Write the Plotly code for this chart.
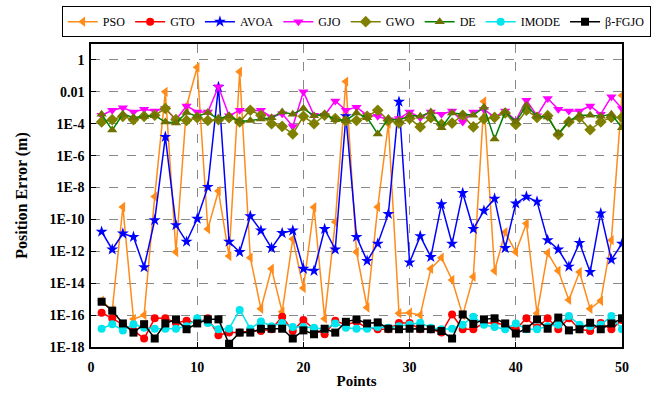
import plotly.graph_objects as go

points = list(range(1, 51))

pso = [8e-16, 2e-16, 6e-10, 5.6e-17, 1e-16, 2.7e-9, 1e-2, 9e-13, 1.3e-3, 0.35,
       2.5e-11, 6e-9, 5e-13, 0.18, 4e-13, 2.5e-16, 8e-14, 1.6e-16, 6e-12, 5e-15,
       5.8e-10, 6e-17, 7e-11, 0.044, 9e-13, 3e-16, 6e-10, 1e-4, 1.3e-16, 1.4e-16,
       1e-16, 8e-14, 4e-13, 1.6e-14, 1e-16, 2.5e-14, 2.5e-3, 6e-14, 1.6e-11, 9e-13,
       5.6e-11, 1.3e-16, 8e-13, 6e-14, 9e-16, 5e-14, 2.5e-16, 8e-16, 5e-12, 6e-3]

gto = [1.4e-16, 6.3e-17, 2.5e-17, 1.1e-17, 3.4e-18, 6.3e-17, 6.3e-17, 3.2e-17, 4.5e-17, 3.2e-17,
       6.3e-17, 5.5e-18, 8e-18, 8e-18, 1e-17, 1e-17, 1.3e-17, 8e-17, 1e-17, 5e-17,
       1.3e-17, 6.3e-18, 4.4e-17, 2.5e-17, 3.8e-17, 1.6e-17, 1.3e-17, 1.3e-17, 3.2e-17, 3.2e-17,
       1.3e-17, 1.3e-17, 8e-18, 1.1e-16, 1.3e-17, 1.3e-17, 3.2e-17, 3.2e-17, 2.5e-17, 1.3e-17,
       6.3e-17, 1.6e-17, 6.3e-17, 1.3e-17, 6.3e-17, 1.3e-17, 1e-17, 3.2e-17, 1.3e-17, 5e-17]

avoa = [1.7e-11, 1.3e-12, 1.3e-11, 8e-12, 1e-13, 9e-11, 1.5e-5, 4.4e-11, 4e-12, 1.1e-10,
        1.1e-8, 2e-2, 4e-12, 9e-13, 1.6e-10, 2e-11, 1.6e-12, 1.4e-11, 2e-11, 8e-14,
        6e-14, 2.5e-11, 1.3e-12, 3e-4, 8e-12, 2.5e-13, 3e-12, 2.2e-10, 2.4e-3, 2e-13,
        9e-12, 4.4e-13, 9e-10, 3e-12, 4.5e-9, 2.5e-11, 3.5e-10, 2e-9, 1.6e-12, 1e-9,
        2.7e-9, 1.3e-9, 5e-12, 1.3e-12, 1.1e-13, 3.4e-12, 5e-14, 2.4e-10, 3e-13, 3e-12]

gjo = [3.4e-4, 7e-4, 1e-3, 5.5e-4, 8e-4, 6.3e-4, 9e-4, 1.8e-4, 1.3e-3, 5.5e-4,
       5.5e-4, 2.1e-2, 3.2e-4, 7e-4, 6.3e-4, 7e-4, 2.6e-4, 4.3e-4, 6.8e-5, 1e-2,
       3.4e-4, 3.4e-4, 2.7e-3, 7e-4, 1.1e-3, 3.4e-4, 2.9e-4, 1.8e-4, 2.1e-4, 5.5e-4,
       2.4e-4, 5.5e-4, 4e-4, 6.3e-4, 1.3e-4, 5.5e-4, 8e-4, 2.6e-4, 6.3e-4, 1.6e-4,
       3e-3, 3.2e-4, 3.8e-3, 8e-4, 6.3e-4, 6.3e-4, 1.3e-3, 4e-4, 5e-3, 9e-4]

gwo = [1.3e-4, 1.8e-4, 2.9e-4, 1.8e-4, 2.9e-4, 3.4e-4, 9e-4, 1.8e-4, 1.6e-4, 2.4e-4,
       1.6e-4, 1.8e-4, 2.4e-4, 1.3e-4, 7e-4, 3.4e-4, 1e-4, 6.8e-5, 2.3e-5, 2.9e-4,
       1e-4, 3.4e-4, 2.1e-4, 1.5e-4, 1.6e-4, 2.9e-4, 7e-4, 1.6e-4, 1.1e-4, 2.1e-4,
       6.3e-5, 2.4e-4, 9e-5, 1.1e-4, 3.4e-4, 6.3e-5, 2e-4, 2.5e-4, 4.7e-4, 9e-5,
       7e-4, 2.5e-4, 3.2e-4, 2.1e-5, 1.3e-4, 2.5e-4, 4.2e-5, 1.3e-4, 2.5e-4, 2.5e-4]

de = [4e-4, 4e-5, 4e-4, 2.5e-4, 2.8e-4, 3.2e-4, 1.3e-4, 1.1e-4, 5e-4, 2.9e-4,
      5e-4, 2e-4, 3.2e-4, 1.4e-4, 1.6e-4, 2e-4, 2.4e-4, 5.5e-4, 4e-4, 9e-4,
      3.2e-4, 4e-4, 1.8e-4, 1.6e-4, 4.7e-4, 2.4e-4, 2.3e-5, 2.1e-4, 1.6e-4, 3.4e-4,
      2.9e-4, 5.5e-4, 5.6e-5, 4.7e-4, 4e-4, 3.4e-4, 1.1e-3, 1.1e-5, 5.5e-4, 1.3e-4,
      1.4e-3, 2.9e-4, 2.6e-4, 2.3e-5, 1.5e-4, 3.4e-4, 3.4e-4, 2.9e-4, 4e-4, 5.6e-5]

imode = [1.4e-17, 2.7e-17, 1.1e-17, 2.7e-17, 1.6e-17, 1.4e-17, 1.4e-17, 1.4e-17, 2e-17, 6.3e-17,
         3.2e-17, 1.3e-17, 1.4e-17, 2.1e-16, 1.4e-17, 4e-17, 2e-17, 3.2e-17, 1.8e-17, 1.8e-17,
         1.6e-17, 1.3e-17, 3e-17, 1.6e-17, 1.4e-17, 1.4e-17, 1.8e-17, 1.6e-17, 2e-17, 2.5e-17,
         3.3e-17, 1.6e-17, 1.3e-17, 1.4e-17, 2.5e-17, 8e-17, 2.5e-17, 1.8e-17, 1.3e-17, 3e-17,
         1.3e-17, 1.3e-17, 2e-17, 2.5e-17, 8.7e-17, 2.5e-17, 2e-17, 2.5e-17, 8.7e-17, 1.3e-17]

fgjo = [6.9e-16, 1.9e-16, 3e-17, 8e-18, 2.7e-17, 3.4e-18, 3e-17, 5.4e-17, 1.3e-17, 3e-17,
        5.4e-17, 5.4e-17, 1.6e-18, 8e-18, 8e-18, 1.4e-17, 1.4e-17, 1.4e-17, 3.4e-18, 1.1e-17,
        6.3e-18, 1.4e-17, 8e-18, 3.8e-17, 5.4e-17, 3e-17, 3.5e-17, 1.4e-17, 1.3e-17, 1.4e-17,
        1.4e-17, 1.3e-17, 1e-17, 3.4e-18, 1.1e-16, 2.8e-17, 5.4e-17, 6.3e-17, 3e-17, 7e-18,
        1.4e-17, 5.4e-17, 1.4e-17, 7e-17, 1.1e-17, 1.3e-17, 3.3e-17, 1.3e-17, 3e-17, 6.3e-17]

y_tickvals = [1, 1e-2, 1e-4, 1e-6, 1e-8, 1e-10, 1e-12, 1e-14, 1e-16, 1e-18]
y_ticktext = ["1", "0.01", "1E-4", "1E-6", "1E-8", "1E-10", "1E-12", "1E-14", "1E-16", "1E-18"]
x_tickvals = [0, 10, 20, 30, 40, 50]

series = [
    ("PSO", pso, "#FF8C1A", "#FF8C1A", "triangle-left", 9),
    ("GTO", gto, "#FF0000", "#FF0000", "circle", 8),
    ("AVOA", avoa, "#0000FF", "#0000FF", "star", 9),
    ("GJO", gjo, "#FF00FF", "#FF00FF", "triangle-down", 9),
    ("GWO", gwo, "#808000", "#808000", "diamond", 9),
    ("DE", de, "#008000", "#6E7000", "triangle-up", 9),
    ("IMODE", imode, "#00E5EE", "#00E5EE", "circle", 8),
    ("\u03b2-FGJO", fgjo, "#000000", "#000000", "square", 8),
]

fig = go.Figure()
for name, vals, lc, mc, sym, ms in series:
    fig.add_trace(go.Scatter(
        x=points, y=vals, name=name, mode="lines+markers",
        line=dict(color=lc, width=1.5),
        marker=dict(color=mc, symbol=sym, size=ms, line=dict(width=0)),
    ))

font_family = "Liberation Serif"
fig.update_layout(
    width=652, height=394,
    margin=dict(l=91, r=30, t=44, b=47, autoexpand=False),
    plot_bgcolor="white", paper_bgcolor="white",
    font=dict(family=font_family, size=13, color="black"),
    showlegend=True,
    legend=dict(
        orientation="h", x=-0.055, y=1.125, xanchor="left", yanchor="top",
        bordercolor="black", borderwidth=1, bgcolor="white",
        font=dict(family=font_family, size=12, color="black"),
        itemwidth=30, tracegroupgap=0,
    ),
    xaxis=dict(
        range=[0, 50], tickvals=x_tickvals, automargin=False,
        showline=True, linecolor="black", linewidth=1.5, mirror=True,
        ticks="inside", ticklen=5, tickwidth=1, tickcolor="black",
        ticklabelstandoff=6,
        showgrid=True, gridcolor="#888888", griddash="dash", gridwidth=1,
        zeroline=False,
        tickfont=dict(family=font_family, size=14, color="black", weight="bold"),
        title=dict(text="<b>Points</b>", font=dict(family=font_family, size=15), standoff=2),
    ),
    yaxis=dict(
        type="log", range=[-18, 1], tickvals=y_tickvals, ticktext=y_ticktext,
        automargin=False,
        showline=True, linecolor="black", linewidth=1.5, mirror=True,
        ticks="inside", ticklen=5, tickwidth=1, tickcolor="black",
        ticklabelstandoff=2,
        showgrid=True, gridcolor="#888888", griddash="dash", gridwidth=1,
        zeroline=False,
        tickfont=dict(family=font_family, size=14, color="black", weight="bold"),
        title=dict(text="<b>Position Error (m)</b>", font=dict(family=font_family, size=16), standoff=18),
    ),
)

fig.write_html("out.html")
